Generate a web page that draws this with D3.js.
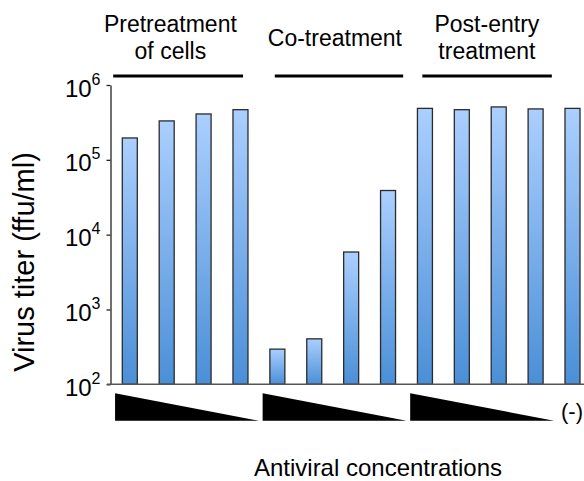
<!DOCTYPE html>
<html>
<head>
<meta charset="utf-8">
<script src="https://cdn.jsdelivr.net/npm/d3@7"></script>
<style>
  body { margin: 0; background: #fff; }
  text { font-family: Arial, "Liberation Sans", sans-serif; fill: #000; }
</style>
</head>
<body>
<div id="chart"></div>
<script>
// bar categories, one per bar (last one is the untreated control)
var categories = ["pre1", "pre2", "pre3", "pre4", "co1", "co2", "co3", "co4",
                  "post1", "post2", "post3", "post4", "neg"];
// virus titer in ffu/ml
var titers = [196000, 331000, 410000, 468000, 295, 405, 5860, 38900,
              487000, 468000, 509000, 479000, 487000];
var tickValues = [1e2, 1e3, 1e4, 1e5, 1e6];
var groupLabels = [["Pretreatment", "of cells"], ["Co-treatment"], ["Post-entry", "treatment"]];
var groupFirst = ["pre1", "co1", "post1"];
var groupLast = ["pre4", "co4", "post4"];

var width = 584, height = 481;
var plotTop = 85, plotBottom = 384.3;

var svg = d3.select("#chart").append("svg")
    .attr("width", width)
    .attr("height", height);

var x = d3.scalePoint().domain(categories).range([129.8, 572.5]);
var step = x.step();
var y = d3.scaleLog().domain([1e2, 1e6]).range([plotBottom, plotTop]);
var barW = 15;

// gradient fill for the bars, light on top to darker blue at the bottom
var grad = svg.append("defs").append("linearGradient")
    .attr("id", "barGrad")
    .attr("x1", 0).attr("y1", 0).attr("x2", 0).attr("y2", 1);
grad.append("stop").attr("offset", "0%").attr("stop-color", "#abcfff");
grad.append("stop").attr("offset", "100%").attr("stop-color", "#4a8fd7");

var data = categories.map(function(c, i) { return { category: c, value: titers[i] }; });

svg.selectAll(".bar")
    .data(data)
    .enter()
    .append("rect")
    .attr("class", "bar")
    .attr("x", function(d) { return x(d.category) - barW / 2; })
    .attr("width", barW)
    .attr("y", function(d) { return y(d.value); })
    .attr("height", function(d) { return plotBottom - y(d.value); })
    .attr("fill", "url(#barGrad)")
    .attr("stroke", "#2b2b2b")
    .attr("stroke-width", 1.3);

// y axis
var yAxis = svg.append("g")
    .attr("transform", "translate(110.5,0)")
    .call(d3.axisLeft(y).tickValues(tickValues).tickSize(4).tickSizeOuter(0).tickFormat(""));
yAxis.select(".domain").attr("stroke", "#222").attr("stroke-width", 1.3);
yAxis.selectAll(".tick line").attr("stroke", "#222").attr("stroke-width", 1.3);

var labels = yAxis.selectAll(".tick").append("text")
    .attr("x", -10)
    .attr("y", 0)
    .attr("text-anchor", "end")
    .attr("fill", "#000")
    .style("font-size", "24px");
labels.append("tspan").attr("dy", 11).text("10");
labels.append("tspan")
    .attr("dy", -12)
    .style("font-size", "16px")
    .text(function(d) { return Math.round(Math.log10(d)); });

// baseline across the plot
svg.append("line")
    .attr("x1", 107).attr("x2", width)
    .attr("y1", plotBottom).attr("y2", plotBottom)
    .attr("stroke", "#555")
    .attr("stroke-width", 1.5);

// y title
svg.append("text")
    .attr("transform", "translate(34," + 262 + ") rotate(-90)")
    .attr("text-anchor", "middle")
    .style("font-size", "29px")
    .text("Virus titer (ffu/ml)");

// group bars and titles
var lineSpan = [[-0.45, 0.07], [-0.07, 0.41], [-0.07, 0.44]];
var titleShift = [-0.4, 0.06, 0.18];
groupLabels.forEach(function(lines, g) {
  var x1 = x(groupFirst[g]) + lineSpan[g][0] * step;
  var x2 = x(groupLast[g]) + lineSpan[g][1] * step;
  svg.append("line")
      .attr("x1", x1).attr("x2", x2)
      .attr("y1", 76).attr("y2", 76)
      .attr("stroke", "#000")
      .attr("stroke-width", 3);
  var cx = (x(groupFirst[g]) + x(groupLast[g])) / 2 + titleShift[g] * step;
  var t = svg.append("text")
      .attr("text-anchor", "middle")
      .style("font-size", "23px");
  if (lines.length === 1) {
    t.append("tspan").attr("x", cx).attr("y", 46).text(lines[0]);
  } else {
    lines.forEach(function(s, k) {
      t.append("tspan").attr("x", cx).attr("y", 32 + k * 27).text(s);
    });
  }
});

// concentration wedges under each group
groupFirst.forEach(function(c, g) {
  var x1 = x(c) - 0.4 * step;
  var x2 = x(groupLast[g]) + 0.5 * step;
  svg.append("path")
      .attr("d", "M" + x1 + ",393.3L" + x2 + ",420.7L" + x1 + ",420.7Z")
      .attr("fill", "#000");
});

svg.append("text")
    .attr("x", 561)
    .attr("y", 419)
    .style("font-size", "22px")
    .text("(-)");

// x title
svg.append("text")
    .attr("x", 378)
    .attr("y", 476)
    .attr("text-anchor", "middle")
    .style("font-size", "24px")
    .text("Antiviral concentrations");
</script>
</body>
</html>
